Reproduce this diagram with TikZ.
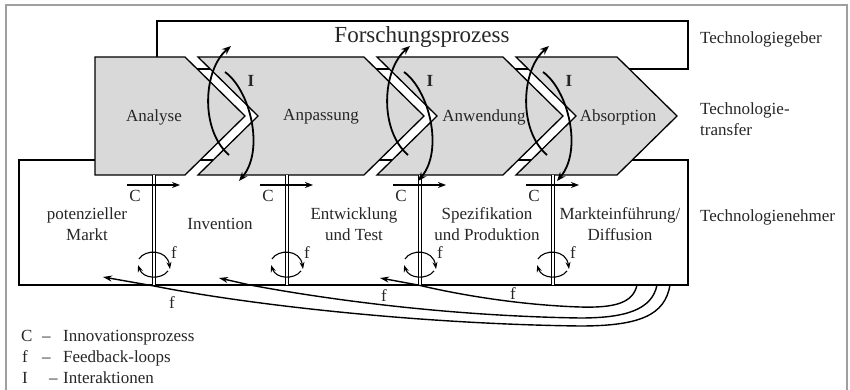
\documentclass[tikz,border=0pt]{standalone}
\usepackage{fontspec}
\setmainfont{Liberation Serif}
\usetikzlibrary{arrows.meta}
\definecolor{chevgray}{HTML}{D9D9D9}
\definecolor{txt}{HTML}{262626}
\tikzset{
  box/.style={draw=black, line width=1.3pt},
  chev/.style={draw=black, fill=chevgray, line width=1.3pt, line join=miter},
  lbl/.style={font=\fontsize{17}{21}\selectfont, text=txt, align=center, inner sep=0pt},
  lbll/.style={lbl, anchor=west, align=left},
  lglbl/.style={lbl, anchor=base west, align=left},
  arcarrow/.style={line width=1.8pt, -{Stealth[length=9pt,width=7pt]}},
  carrow/.style={line width=1.3pt, -{Stealth[length=8pt,width=6pt]}},
  loopar/.style={line width=1.1pt, -{Stealth[length=7pt,width=5pt]}},
  fbarrow/.style={line width=1.4pt, -{Stealth[length=9pt,width=6pt]}},
  divider/.style={double, double distance=2.4pt, line width=0.9pt},
}
\begin{document}
\begin{tikzpicture}[x=1pt,y=-1pt]
\useasboundingbox (0,0) rectangle (850,390);
% outer frame
\draw[gray!75, line width=1.6pt] (6,5) rectangle (847,396);
% boxes
\draw[box] (157,21) rectangle (688,69);
\node[lbl, font=\fontsize{23}{26}\selectfont] (fp) at (422,37) {Forschungsprozess};
\draw[box] (19,160) rectangle (688,285);
% chevrons
\draw[chev] (95,57) -- (185,57) -- (245,116) -- (185,175) -- (95,175) -- cycle;
\draw[chev] (198,57) -- (364,57) -- (424,116) -- (364,175) -- (198,175) -- (258,116) -- cycle;
\draw[chev] (377,57) -- (503,57) -- (563,116) -- (503,175) -- (377,175) -- (437,116) -- cycle;
\draw[chev] (516,57) -- (617,57) -- (677,116) -- (617,175) -- (516,175) -- (576,116) -- cycle;
\node[lbl] (an) at (154,117) {Analyse};
\node[lbl] (ap) at (321,117) {Anpassung};
\node[lbl] (aw) at (484,117) {Anwendung};
\node[lbl] (ab) at (618,117) {Absorption};
% dividers, C arrows, small loops
\foreach \d [count=\i] in {154,287,420,553} {
  \draw[divider] (\d,175) -- (\d,285);
  \coordinate (cl\i) at (\d-27,185);
  \coordinate (cr\i) at (\d+26,185);
  \draw[carrow] (cl\i) -- (cr\i);
  \node[lbl] (c\i) at (\d-19,196) {C};
  \coordinate (u\i) at (\d-15,259);
  \coordinate (v\i) at (\d+16,269);
  \coordinate (w\i) at (\d+14,271);
  \coordinate (z\i) at (\d-16,265);
  \draw[loopar] (u\i) .. controls (\d-9,249) and (\d+13,249) .. (v\i);
  \draw[loopar] (w\i) .. controls (\d+7,280) and (\d-11,279) .. (z\i);
  \node[lbl] (lf\i) at (\d+20,253) {f};
}
% interaction arcs
\foreach \t [count=\j] in {245,424,563} {
  \coordinate (a\j) at (\t-16,155);
  \coordinate (b\j) at (\t-14,46);
  \coordinate (p\j) at (\t-20,72);
  \coordinate (q\j) at (\t-6,181);
  \draw[arcarrow] (a\j) .. controls (\t-45,130) and (\t-42,70) .. (b\j);
  \draw[arcarrow] (p\j) .. controls (\t+5,90) and (\t+20,150) .. (q\j);
  \node[lbl, font=\fontsize{17}{21}\selectfont\bfseries] (i\j) at (\t+6,81) {I};
}
% section texts
\node[lbl] (pm) at (87,224) {potenzieller\\Markt};
\node[lbl] (inv) at (220,224) {Invention};
\node[lbl] (et) at (354,224) {Entwicklung\\und Test};
\node[lbl] (sp) at (487,224) {Spezifikation\\und Produktion};
\node[lbl] (md) at (620,224) {Markteinführung/\\Diffusion};
% right labels
\node[lbll] (tg) at (700,39) {Technologiegeber};
\node[lbll] (tt) at (700,119) {Technologie-\\transfer};
\node[lbll] (tn) at (700,217) {Technologienehmer};
% feedback arrows
\coordinate (s1) at (637,285); \coordinate (e1) at (380,278);
\coordinate (s2) at (657,285); \coordinate (e2) at (219,278);
\coordinate (s3) at (670,285); \coordinate (e3) at (103,277);
\draw[fbarrow] (s1) .. controls (633,303) and (615,308) .. (580,307)
  .. controls (520,305) and (460,295) .. (418,285) -- (e1);
\draw[fbarrow] (s2) .. controls (652,310) and (625,318) .. (580,318)
  .. controls (450,316) and (330,300) .. (250,285) -- (e2);
\draw[fbarrow] (s3) .. controls (665,315) and (640,326) .. (580,326)
  .. controls (420,324) and (250,305) .. (154,286) -- (e3);
\node[lbl] (f1) at (513,294) {f};
\node[lbl] (f2) at (384,296) {f};
\node[lbl] (f3) at (172,303) {f};
% legend
\node[lglbl] (lc) at (21,341) {C};
\node[lglbl] (ld1) at (42,341) {--};
\node[lglbl] (lt1) at (63,341) {Innovationsprozess};
\node[lglbl] (lf) at (22,362) {f};
\node[lglbl] (ld2) at (42,362) {--};
\node[lglbl] (lt2) at (63,362) {Feedback-loops};
\node[lglbl] (li) at (22,383) {I};
\node[lglbl] (ld3) at (49,383) {--};
\node[lglbl] (lt3) at (63,383) {Interaktionen};
\end{tikzpicture}
\end{document}
